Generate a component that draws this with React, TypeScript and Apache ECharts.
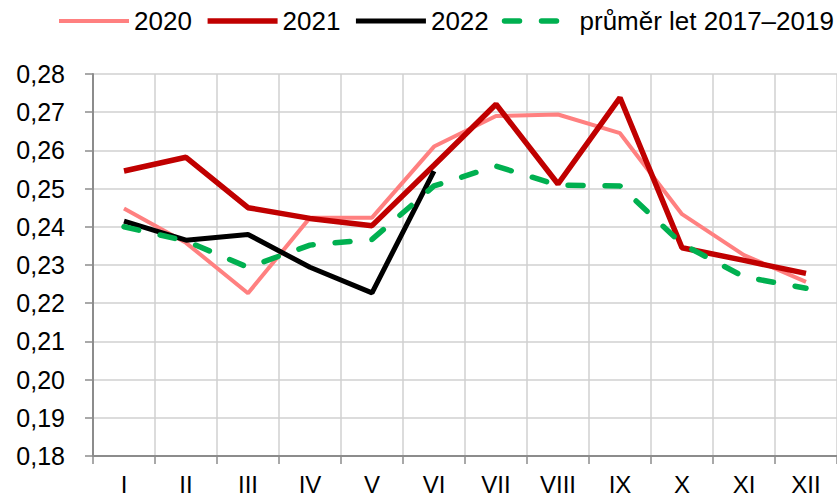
import React, { useEffect, useRef } from "react";
import * as echarts from "echarts";

const months = ["I", "II", "III", "IV", "V", "VI", "VII", "VIII", "IX", "X", "XI", "XII"];
const s2020 = [0.2448, 0.2358, 0.2226, 0.2424, 0.2424, 0.261, 0.269, 0.2694, 0.2645, 0.2433, 0.2326, 0.2256];
const s2021 = [0.2546, 0.2582, 0.245, 0.2422, 0.2403, 0.2561, 0.2721, 0.2512, 0.2738, 0.2345, 0.2312, 0.2278];
const s2022 = [0.2415, 0.2365, 0.238, 0.2294, 0.2227, 0.2546];
const sAvg = [0.24, 0.2363, 0.2294, 0.2352, 0.2367, 0.2507, 0.2559, 0.2509, 0.2507, 0.2355, 0.2269, 0.2239];

export default function App() {
  const ref = useRef<HTMLDivElement>(null);
  useEffect(() => {
    if (!ref.current) return;
    const chart = echarts.init(ref.current, null, { renderer: "svg" });
    const font = "Liberation Sans, Arial, sans-serif";
    chart.setOption({
      animation: false,
      backgroundColor: "#ffffff",
      textStyle: { fontFamily: font },
      legend: {
        left: 57,
        top: 8,
        width: 790,
        padding: 0,
        itemWidth: 70,
        itemHeight: 14,
        itemGap: 13,
        textStyle: { fontSize: 26, color: "#000", fontFamily: font },
        itemStyle: { opacity: 0 },
        lineStyle: { width: "inherit" },
        data: ["2020", "2021", "2022", "průměr let 2017–2019"],
      },
      grid: { left: 93, top: 74, right: -12, bottom: 42, containLabel: false },
      xAxis: {
        type: "category",
        data: months,
        boundaryGap: true,
        axisLine: { show: true, lineStyle: { color: "#8c8c8c", width: 2 } },
        axisTick: { show: true, length: 8, lineStyle: { color: "#8c8c8c", width: 1.5 } },
        splitLine: { show: true, lineStyle: { color: "#d0d0d0", width: 1.5 } },
        axisLabel: { fontSize: 24, lineHeight: 24, color: "#000", margin: 16, fontFamily: font },
      },
      yAxis: {
        type: "value",
        min: 0.18,
        max: 0.28,
        interval: 0.01,
        axisLine: { show: true, lineStyle: { color: "#8c8c8c", width: 2 } },
        axisTick: { show: true, length: 8, lineStyle: { color: "#8c8c8c", width: 1.5 } },
        splitLine: { show: true, lineStyle: { color: "#d0d0d0", width: 1.5 } },
        axisLabel: {
          fontSize: 25,
          color: "#000",
          margin: 28,
          fontFamily: font,
          formatter: (v: number) => v.toFixed(2).replace(".", ","),
        },
      },
      series: [
        {
          name: "2020",
          type: "line",
          data: s2020,
          symbol: "none",
          lineStyle: { color: "#ff8080", width: 4 },
          itemStyle: { color: "#ff8080" },
        },
        {
          name: "2021",
          type: "line",
          data: s2021,
          symbol: "none",
          lineStyle: { color: "#c00000", width: 5.5 },
          itemStyle: { color: "#c00000" },
        },
        {
          name: "2022",
          type: "line",
          data: s2022,
          symbol: "none",
          lineStyle: { color: "#000000", width: 5 },
          itemStyle: { color: "#000000" },
        },
        {
          name: "průměr let 2017–2019",
          type: "line",
          data: sAvg,
          symbol: "none",
          lineStyle: { color: "#00b050", width: 5.5, type: [15, 22], cap: "round" },
          itemStyle: { color: "#00b050" },
        },
      ],
    });
    return () => chart.dispose();
  }, []);
  return (
    <div
      ref={ref}
      style={{ position: "fixed", left: 0, top: 0, width: 837, height: 498 }}
    />
  );
}
